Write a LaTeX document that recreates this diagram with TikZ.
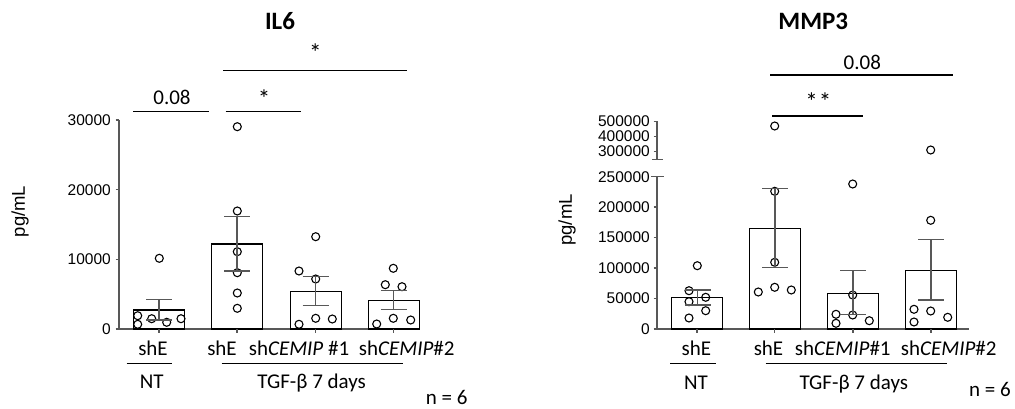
\documentclass[tikz,border=0pt]{standalone}
\usepackage{fontspec}
\setmainfont{Carlito}
\newfontfamily\arialfont{Liberation Sans}
\definecolor{axgray}{RGB}{88,88,88}
\tikzset{
  axisline/.style={axgray,line width=1.3pt},
  barbox/.style={black,line width=1.2pt},
  errbar/.style={axgray,line width=1.2pt},
  datadot/.style={black,line width=1.1pt},
  sigline/.style={black,line width=1.3pt},
  lab/.style={font=\fontsize{21}{24}\selectfont,anchor=base,inner sep=0pt},
  starlab/.style={font=\fontsize{25}{28}\selectfont,anchor=base,inner sep=0pt},
  ticklab/.style={font=\arialfont\fontsize{15.5}{17}\selectfont,anchor=east,inner sep=0pt},
  ylab/.style={font=\arialfont\fontsize{18.5}{20}\selectfont,rotate=90,inner sep=0pt},
  titlelab/.style={font=\bfseries\fontsize{25}{28}\selectfont,anchor=base,inner sep=0pt}
}
\begin{document}
\begin{tikzpicture}[x=1pt,y=-1pt]
\useasboundingbox (0,0) rectangle (1015,409);
\node (tIL) at (280,29.3)[titlelab]{IL6};
\node (yIL) at (20,211.5)[ylab]{pg/mL};
\draw[axisline] (119,120)--(119,329)--(420,329);
\foreach \y/\ytext in {120/30000,189.7/20000,259.4/10000,329/0}
{
    \draw[axisline] (115.5,\y)--(119,\y);
    \node (yIL\ytext) at (111,\y)[ticklab]{\ytext};
}
\foreach \cx/\ty in {159/310,237/244,315.7/291.7,393.8/300.7}
{
    \draw[barbox] (\cx-25.5,329) rectangle (\cx+25.5,\ty);
    \draw[axisline] (\cx,329)--(\cx,333);
}
\foreach \x/\y in {137.7/315.7,137.7/324.3,151.7/318.7,159.3/258.3,166.7/322.3,181/318.7,
  237.3/126.7,237.3/211,237.3/251.7,237.3/272.7,237.3/293,237.3/308.3,
  315.7/236.7,299/271,315.7/279,299/324.3,315.7/318.3,332.3/319,
  393.3/268.3,385.3/284.7,402/286.7,376.7/324,393.3/318.3,410.7/320}
  \draw[datadot] (\x,\y) circle (4pt);
\foreach \cx/\hi/\lo in {159/299.3/320,237/216.7/271,315.7/276.7/305.7,393.8/290.7/309.3}
  \draw[errbar] (\cx,\hi)--(\cx,\lo) (\cx-13,\hi)--(\cx+13,\hi) (\cx-13,\lo)--(\cx+13,\lo);
\draw[sigline] (133.3,111.7)--(209.3,111.7);
\node (pIL1) at (172,104.3)[lab]{0.08};
\draw[sigline] (225.7,111.7)--(301,111.7);
\node (pIL2) at (264,107.5)[starlab]{*};
\draw[sigline] (223.3,70.7)--(406.7,70.7);
\node (pIL3) at (315.3,61.5)[starlab]{*};
\node (gIL1) at (153,355)[lab]{shE};
\draw[sigline] (126.7,363.3)--(171.7,363.3);
\node (cIL1) at (151.7,388.3)[lab]{NT};
\node (gIL2) at (222,355)[lab]{shE};
\node (gIL3) at (299,355)[lab]{sh\textit{CEMIP} \#1};
\node (gIL4) at (406.7,355)[lab]{sh\textit{CEMIP}\#2};
\draw[sigline] (221.7,363.3)--(403.3,363.3);
\node (cIL2) at (311.7,388.3)[lab]{TGF-β 7 days};
\node (nIL) at (446.7,404)[lab]{n = 6};

\node (tMM) at (813.3,29.3)[titlelab]{MMP3};
\node (yMM) at (567,220)[ylab]{pg/mL};
\draw[axisline] (657,121.3)--(657,159.3) (652,159.3)--(663,159.3);
\draw[axisline] (651,176.7)--(664,176.7) (657,176.7)--(657,329)--(969,329);
\node (yMM250000) at (650,176.7)[ticklab]{250000};
\foreach \y/\ytext in {121.3/500000,136.3/400000,151.3/300000,207.1/200000,237.6/150000,268/100000,298.5/50000,329/0}
{
    \draw[axisline] (653.5,\y)--(657,\y);
    \node (yMM\ytext) at (650,\y)[ticklab]{\ytext};
}
\foreach \cx/\ty in {697/297.3,774.8/228.3,853/293.3,931/270.3}
{
    \draw[barbox] (\cx-25.5,329) rectangle (\cx+25.5,\ty);
    \draw[axisline] (\cx,329)--(\cx,333);
}
\foreach \x/\y in {697.3/265.7,689/290.7,689/301.7,705.7/297.3,705.7/310.7,689/318,
  774.7/126,774.7/191.3,774.7/262.3,774.7/287.3,791.3/290,758.3/292,
  852.7/184,852.7/295,836/314.3,852.7/315,836/323.3,869.3/320.7,
  930.7/150,930.7/220.3,914/309.3,930.7/311,914/322,947.7/317.3}
  \draw[datadot] (\x,\y) circle (4pt);
\foreach \cx/\hi/\lo in {697.5/290/305,775/188.3/267.7,853/270.7/314.3,931/239.3/300}
  \draw[errbar] (\cx,\hi)--(\cx,\lo) (\cx-13,\hi)--(\cx+13,\hi) (\cx-13,\lo)--(\cx+13,\lo);
\draw[sigline] (770,75)--(953.3,75);
\node (pMM1) at (862.3,69.5)[lab]{0.08};
\draw[sigline] (772.3,116)--(863.3,116);
\node (pMM2) at (818.3,111)[starlab]{*\kern1pt*};
\node (gMM1) at (696.3,355)[lab]{shE};
\draw[sigline] (670,363.3)--(715.7,363.3);
\node (cMM1) at (696,389)[lab]{NT};
\node (gMM2) at (768.5,355)[lab]{shE};
\node (gMM3) at (842.8,355)[lab]{sh\textit{CEMIP}\#1};
\node (gMM4) at (948.7,355)[lab]{sh\textit{CEMIP}\#2};
\draw[sigline] (765.7,363.3)--(946.7,363.3);
\node (cMM2) at (853.8,389)[lab]{TGF-β 7 days};
\node (nMM) at (990,396.7)[lab]{n = 6};
\end{tikzpicture}
\end{document}
